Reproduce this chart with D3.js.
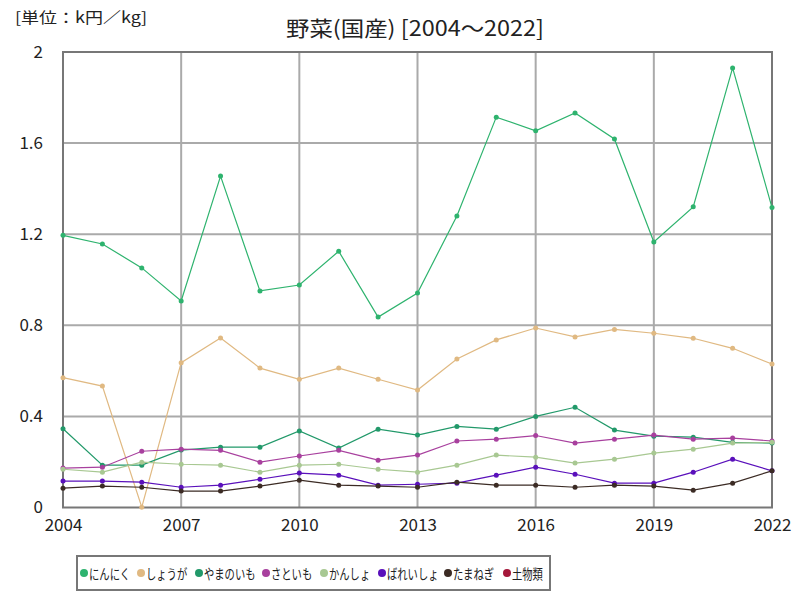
<!DOCTYPE html>
<html><head><meta charset="utf-8">
<script src="https://cdn.jsdelivr.net/npm/d3@7"></script>
<style>
body{margin:0;background:#fff;}
text{font-family:"Noto Sans CJK JP","Noto Sans",sans-serif;}
</style></head>
<body><svg id="c" width="800" height="600"></svg>
<script>
const years = d3.range(2004, 2023);
const seriesNames = ["にんにく","しょうが","やまのいも","さといも","かんしょ","ばれいしょ","たまねぎ","土物類"];
const colors = ["#2eb36e","#e0b982","#22996a","#a8409e","#a8c892","#5a10bb","#3b2b24","#a5173a"];
const garlic = [1.195,1.157,1.052,0.907,1.455,0.951,0.977,1.125,0.836,0.942,1.280,1.714,1.654,1.732,1.618,1.166,1.320,1.930,1.317];
const ginger = [0.570,0.533,0.001,0.636,0.744,0.612,0.563,0.612,0.563,0.516,0.652,0.736,0.788,0.749,0.782,0.765,0.743,0.699,0.630];
const yam = [0.346,0.186,0.186,0.252,0.265,0.265,0.336,0.261,0.344,0.318,0.356,0.344,0.400,0.440,0.340,0.313,0.309,0.286,0.283];
const taro = [0.173,0.177,0.247,0.256,0.251,0.199,0.226,0.251,0.208,0.230,0.292,0.300,0.316,0.283,0.300,0.318,0.300,0.305,0.292];
const sweetPotato = [0.168,0.155,0.199,0.190,0.186,0.155,0.186,0.190,0.168,0.155,0.186,0.230,0.221,0.195,0.212,0.239,0.256,0.283,0.286];
const potato = [0.116,0.116,0.111,0.089,0.098,0.124,0.151,0.142,0.098,0.102,0.107,0.142,0.177,0.146,0.107,0.107,0.155,0.212,0.161];
const onion = [0.085,0.094,0.089,0.072,0.072,0.094,0.120,0.098,0.094,0.089,0.111,0.098,0.098,0.089,0.098,0.094,0.076,0.107,0.161];
const rootVeg = [];
const seriesValues = [garlic, ginger, yam, taro, sweetPotato, potato, onion, rootVeg];
const xTicks = [2004,2007,2010,2013,2016,2019,2022];
const yTicks = [0,0.4,0.8,1.2,1.6,2];

const svg = d3.select("#c");
const L=63, R=772, T=52, B=507.5;
const x = d3.scaleLinear().domain([2004,2022]).range([L,R]);
const y = d3.scaleLinear().domain([0,2]).range([B,T]);

// grid
svg.append("g").selectAll("line").data(xTicks.slice(1,-1)).join("line")
  .attr("x1",d=>x(d)).attr("x2",d=>x(d)).attr("y1",T).attr("y2",B)
  .attr("stroke","#aaa").attr("stroke-width",2);
svg.append("g").selectAll("line").data(yTicks.slice(1,-1)).join("line")
  .attr("x1",L).attr("x2",R).attr("y1",d=>y(d)).attr("y2",d=>y(d))
  .attr("stroke","#aaa").attr("stroke-width",2);
svg.append("rect").attr("x",L).attr("y",T).attr("width",R-L).attr("height",B-T)
  .attr("fill","none").attr("stroke","#777").attr("stroke-width",2);

// axes labels
const yAxis = d3.axisLeft(y).tickValues(yTicks).tickFormat(d=>d===0?"0":String(d)).tickSize(0).tickPadding(20);
const gy = svg.append("g").attr("transform",`translate(${L},0)`).call(yAxis);
gy.select(".domain").remove();
gy.selectAll("text").attr("font-size",17).attr("fill","#222").attr("font-family",'"Noto Sans CJK JP",sans-serif');
const xAxis = d3.axisBottom(x).tickValues(xTicks).tickFormat(d3.format("d")).tickSize(0).tickPadding(11);
const gx = svg.append("g").attr("transform",`translate(0,${B})`).call(xAxis);
gx.select(".domain").remove();
gx.selectAll("text").attr("font-size",17).attr("fill","#222").attr("font-family",'"Noto Sans CJK JP",sans-serif');

// lines
const line = d3.line().x((d,i)=>x(years[i])).y(d=>y(d));
seriesValues.forEach((vals,k)=>{
  if(!vals.length) return;
  svg.append("path").datum(vals).attr("d",line).attr("fill","none")
    .attr("stroke",colors[k]).attr("stroke-width",1.2);
  svg.append("g").selectAll("circle").data(vals).join("circle")
    .attr("cx",(d,i)=>x(years[i])).attr("cy",d=>y(d)).attr("r",2.5).attr("fill",colors[k]);
});

// title
svg.append("text").attr("x",415).attr("y",36).attr("text-anchor","middle")
  .attr("font-size",21).attr("fill","#222")
  .attr("textLength",258).attr("lengthAdjust","spacingAndGlyphs")
  .text("野菜(国産) [2004～2022]");
svg.append("text").attr("x",15).attr("y",23).attr("font-size",15).attr("fill","#222")
  .attr("textLength",132).attr("lengthAdjust","spacingAndGlyphs")
  .text("[単位：k円／kg]");

// legend
svg.append("rect").attr("x",77).attr("y",556).attr("width",473).attr("height",34)
  .attr("fill","#fff").attr("stroke","#777").attr("stroke-width",2);
const lx = [84,141,199,266,324,382,448,507];
seriesNames.forEach((n,k)=>{
  const g = svg.append("g").attr("transform",`translate(${lx[k]},573)`);
  g.append("circle").attr("cx",0).attr("cy",0).attr("r",4).attr("fill",colors[k]);
  g.append("text").attr("x",5).attr("y",5.5).attr("font-size",14).attr("fill","#222")
    .attr("textLength",n.length*10.3).attr("lengthAdjust","spacingAndGlyphs").text(n);
});
</script></body></html>
